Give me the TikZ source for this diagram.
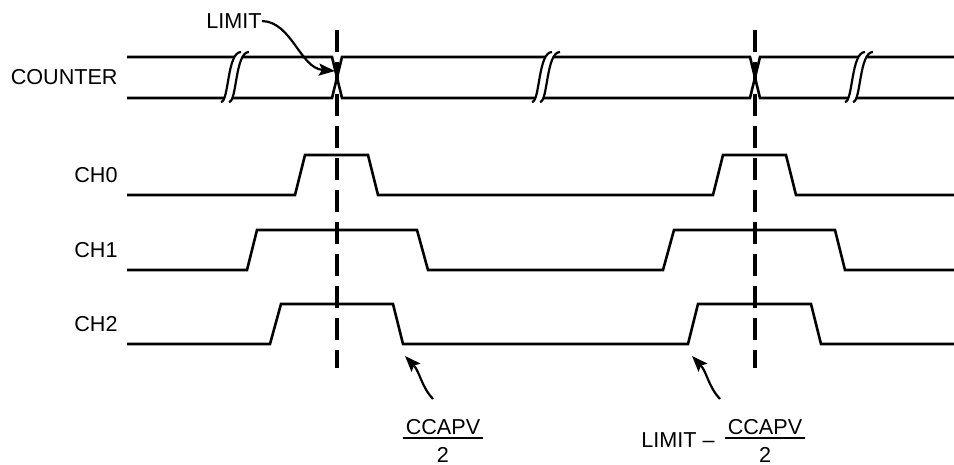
\documentclass[tikz,border=0pt]{standalone}
\usepackage{fontspec}
\setmainfont{Liberation Sans}
\usetikzlibrary{arrows.meta, positioning}

\begin{document}
\begin{tikzpicture}[
    x=0.5pt, y=-0.5pt,
    every node/.style={font=\fontsize{10.8}{12}\selectfont, inner sep=0pt},
    sig/.style={line width=1.3pt, line join=miter},
    marker/.style={line width=1.7pt, dash pattern=on 11pt off 5pt},
    brkline/.style={line width=1.1pt},
    note/.style={line width=1.1pt, -{Stealth[length=8pt, width=6pt, inset=1.5pt]}},
    lbl/.style={anchor=east}
]
\useasboundingbox (0,0) rectangle (954,465);

% signal names
\node[lbl] (cnt) at (118,77) {COUNTER};
\node[lbl] (ch0) at (118,175) {CH0};
\node[lbl] (ch1) at (118,250) {CH1};
\node[lbl] (ch2) at (118,324) {CH2};

% counter bus
\draw[sig] (127,57) -- (332,57) -- (342,98) -- (750,98) -- (760,57) -- (954,57);
\draw[sig] (127,98) -- (332,98) -- (342,57) -- (750,57) -- (760,98) -- (954,98);
\foreach \bx in {235,546,859} {
    \draw[white, line width=3pt] (\bx-10,102) .. controls (\bx-2,102) and (\bx-4,52) .. (\bx+10,52);
    \draw[brkline] (\bx-14,102) .. controls (\bx-6,102) and (\bx-8,52) .. (\bx+6,52);
    \draw[brkline] (\bx-6,102) .. controls (\bx+2,102) and (\bx,52) .. (\bx+14,52);
}

% channels
\draw[sig] (127,195) -- (295,195) -- (305,155) -- (368,155) -- (378,195)
    -- (713,195) -- (723,155) -- (786,155) -- (796,195) -- (954,195);
\draw[sig] (127,270) -- (247,270) -- (257,230) -- (417,230) -- (428,270)
    -- (663,270) -- (674,230) -- (835,230) -- (845,270) -- (954,270);
\draw[sig] (127,344) -- (270,344) -- (281,304) -- (393,304) -- (403,344)
    -- (688,344) -- (698,304) -- (811,304) -- (821,344) -- (954,344);

% limit markers
\draw[marker] (337,30) -- (337,368);
\draw[marker] (755,30) -- (755,368);

% annotations
\node[anchor=east] (lim) at (262,21) {LIMIT};
\coordinate (xing) at (335,71);
\draw[note] (lim.east) .. controls (292,22) and (300,68) .. (xing);

\node (num1) at (443,427) {CCAPV};
\node (den1) at (443,455) {2};
\draw[line width=1.3pt] (403,438) -- (483,438);
\coordinate (t1) at (433,399);
\coordinate (h1) at (405,356);
\draw[note] (t1) .. controls (421,386) and (420,372) .. (h1);

\node (num2) at (765,427) {CCAPV};
\node (den2) at (765,455) {2};
\draw[line width=1.3pt] (725,438) -- (805,438);
\node[anchor=east] (lim2) at (715,440) {LIMIT –};
\coordinate (t2) at (720,399);
\coordinate (h2) at (692,356);
\draw[note] (t2) .. controls (708,386) and (707,372) .. (h2);
\end{tikzpicture}
\end{document}
